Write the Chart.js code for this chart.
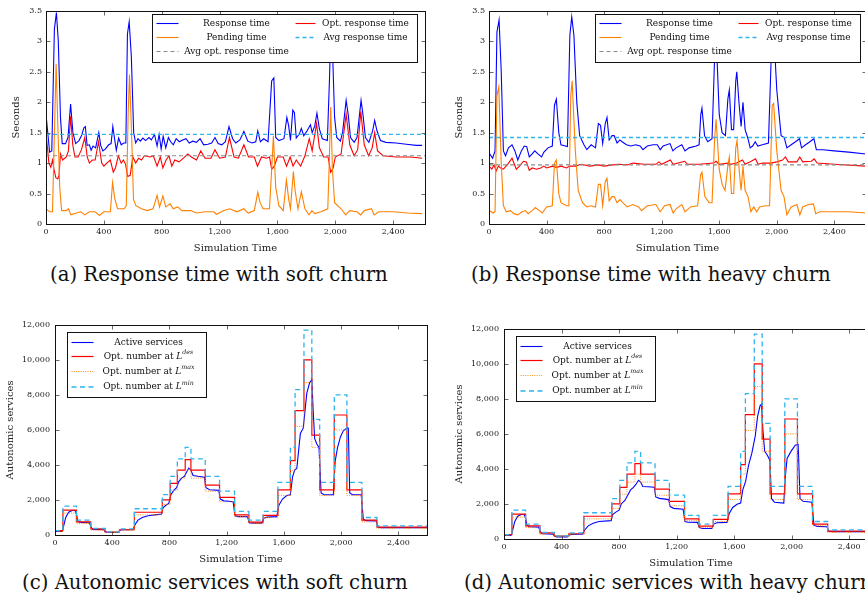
<!DOCTYPE html>
<html>
<head>
<meta charset="utf-8">
<script src="https://cdn.jsdelivr.net/npm/chart.js@4.4.1/dist/chart.umd.min.js"></script>
<style>
  html, body { margin: 0; padding: 0; background: #fff; }
  body { position: relative; width: 865px; height: 608px; overflow: hidden; }
  canvas { position: absolute; }
  .cap { position: absolute; font-family: "DejaVu Serif"; font-size: 19.7px; color: #111; white-space: nowrap; line-height: 1; }
</style>
</head>
<body>
<canvas id="chartA" width="437" height="252" style="left:0px;top:2px"></canvas>
<canvas id="chartB" width="435" height="252" style="left:443px;top:2px"></canvas>
<canvas id="chartC" width="439" height="250" style="left:0px;top:315px"></canvas>
<canvas id="chartD" width="441" height="250" style="left:449px;top:319px"></canvas>
<div class="cap" style="left:50px;top:265px">(a) Response time with soft churn</div>
<div class="cap" style="left:471px;top:265px">(b) Response time with heavy churn</div>
<div class="cap" style="left:22px;top:573px">(c) Autonomic services with soft churn</div>
<div class="cap" style="left:464px;top:573px">(d) Autonomic services with heavy churn</div>
<script>
// ---- données ----
const xTicks = [0, 400, 800, 1200, 1600, 2000, 2400];
const yTicksTime = [0, 0.5, 1, 1.5, 2, 2.5, 3, 3.5];
const yTicksServices = [0, 2000, 4000, 6000, 8000, 10000, 12000];

const timeLabels = ['Response time', 'Opt. response time', 'Pending time', 'Avg response time', 'Avg opt. response time'];
const serviceLabels = ['Active services', 'Opt. number at L^{des}', 'Opt. number at L^{max}', 'Opt. number at L^{min}'];

// (a) soft churn
const aResponse = [[0,1.80],[25,1.18],[40,1.20],[58,3.20],[72,3.47],[85,3.0],[100,1.75],[112,1.32],[135,1.32],[152,1.42],[170,1.97],[186,1.50],[205,1.32],[228,1.37],[245,1.45],[262,1.58],[272,1.60],[284,1.29],[300,1.30],[312,1.21],[325,1.28],[343,1.25],[365,1.50],[378,1.29],[393,1.20],[410,1.23],[433,1.30],[450,1.32],[462,1.60],[474,1.40],[486,1.21],[502,1.41],[520,1.30],[537,1.33],[552,1.33],[563,3.12],[575,3.32],[590,2.75],[606,1.50],[620,1.33],[636,1.40],[652,1.36],[670,1.41],[688,1.37],[712,1.42],[728,1.38],[750,1.47],[768,1.28],[782,1.47],[796,1.23],[810,1.44],[828,1.25],[846,1.42],[862,1.35],[880,1.30],[900,1.40],[922,1.35],[945,1.38],[968,1.40],[990,1.33],[1015,1.36],[1040,1.34],[1065,1.40],[1090,1.30],[1120,1.31],[1145,1.33],[1168,1.42],[1190,1.32],[1215,1.30],[1240,1.35],[1265,1.60],[1290,1.40],[1312,1.33],[1340,1.38],[1368,1.52],[1395,1.36],[1425,1.33],[1450,1.35],[1464,1.53],[1482,1.35],[1505,1.40],[1535,1.35],[1560,2.35],[1575,2.40],[1588,1.42],[1610,1.37],[1645,1.40],[1665,1.75],[1677,1.62],[1690,1.37],[1706,1.87],[1717,1.83],[1730,1.41],[1752,1.48],[1765,1.57],[1782,1.45],[1805,1.53],[1828,1.63],[1840,1.50],[1858,1.61],[1873,1.82],[1890,1.56],[1910,1.40],[1945,1.37],[1960,2.40],[1970,3.30],[1980,2.90],[1995,1.75],[2010,1.42],[2035,1.36],[2050,1.50],[2075,2.03],[2090,1.78],[2105,1.42],[2130,1.34],[2150,1.42],[2178,2.03],[2192,1.78],[2208,1.42],[2232,1.34],[2258,1.53],[2272,1.70],[2288,1.53],[2312,1.37],[2350,1.34],[2420,1.33],[2490,1.31],[2560,1.29],[2600,1.29]];
const aOptimal = [[0,1.50],[20,1.00],[33,0.93],[45,1.05],[55,0.90],[68,0.76],[82,0.74],[90,0.80],[100,1.15],[115,1.05],[140,1.10],[155,1.20],[170,1.77],[185,1.30],[200,1.10],[222,1.10],[245,1.22],[268,1.42],[285,1.10],[300,1.00],[320,1.05],[340,1.05],[363,1.35],[385,1.00],[400,0.95],[420,1.00],[445,1.05],[465,0.85],[480,0.92],[500,1.12],[520,1.00],[535,1.05],[550,0.98],[565,0.78],[582,0.80],[600,1.10],[620,1.00],[640,1.08],[660,1.05],[680,1.12],[720,1.10],[742,1.12],[768,0.95],[790,1.10],[808,0.92],[830,1.05],[850,1.12],[870,0.95],[890,1.05],[920,1.02],[950,1.08],[980,1.15],[1005,1.10],[1040,1.05],[1070,1.20],[1100,1.08],[1140,1.08],[1168,1.22],[1200,1.08],[1240,1.10],[1268,1.42],[1300,1.10],[1330,1.08],[1368,1.30],[1400,1.10],[1440,1.10],[1462,0.95],[1490,1.10],[1525,1.08],[1545,1.10],[1560,0.90],[1578,0.95],[1600,1.10],[1640,1.10],[1663,0.95],[1688,1.10],[1708,0.95],[1730,1.05],[1760,0.95],[1790,1.12],[1820,1.40],[1840,1.20],[1870,1.65],[1890,1.25],[1920,1.10],[1950,1.10],[1968,0.85],[1985,0.92],[2000,1.10],[2040,1.15],[2075,1.80],[2100,1.30],[2130,1.12],[2155,1.22],[2176,1.85],[2200,1.30],[2230,1.12],[2255,1.25],[2272,1.50],[2292,1.20],[2330,1.12],[2420,1.10],[2520,1.10],[2600,1.08]];
const aPending = [[0,0.25],[25,0.20],[45,0.20],[58,1.50],[70,2.63],[82,1.60],[95,0.60],[108,0.22],[140,0.22],[155,0.25],[172,0.15],[210,0.18],[240,0.20],[268,0.15],[300,0.20],[340,0.20],[370,0.14],[400,0.20],[445,0.20],[460,0.68],[475,0.42],[495,0.25],[540,0.25],[555,0.30],[568,1.80],[577,2.45],[590,1.60],[605,0.40],[622,0.30],[660,0.25],[700,0.22],[740,0.25],[768,0.47],[785,0.28],[808,0.46],[828,0.28],[858,0.33],[880,0.25],[910,0.28],[940,0.22],[1000,0.22],[1040,0.18],[1100,0.20],[1160,0.20],[1178,0.16],[1230,0.22],[1270,0.25],[1320,0.20],[1368,0.25],[1398,0.18],[1440,0.22],[1464,0.52],[1480,0.35],[1500,0.25],[1545,0.25],[1560,0.90],[1572,1.45],[1588,0.60],[1610,0.30],[1640,0.22],[1662,0.72],[1678,0.40],[1690,0.25],[1710,0.86],[1722,0.55],[1742,0.25],[1765,0.53],[1790,0.25],[1818,0.15],[1838,0.22],[1858,0.17],[1900,0.20],[1948,0.25],[1958,1.00],[1968,1.92],[1980,0.90],[1995,0.35],[2040,0.25],[2072,0.15],[2100,0.22],[2150,0.20],[2175,0.15],[2200,0.22],[2250,0.25],[2268,0.15],[2300,0.20],[2400,0.20],[2500,0.18],[2600,0.17]];
const aAvgResponse = 1.47;
const aAvgOptimal = 1.12;

// (b) heavy churn
const bResponse = [[0,1.17],[25,1.08],[42,1.20],[55,3.15],[70,3.35],[85,2.50],[100,1.20],[115,1.12],[135,1.25],[160,1.30],[180,1.20],[200,1.05],[225,1.20],[245,1.28],[262,1.27],[280,1.10],[300,1.15],[318,1.20],[340,1.15],[365,1.10],[382,1.18],[410,1.25],[440,1.28],[455,1.95],[468,2.05],[485,1.50],[500,1.30],[530,1.28],[545,1.27],[562,3.10],[575,3.40],[590,3.10],[610,2.00],[630,1.45],[660,1.30],[680,1.22],[710,1.30],[740,1.25],[760,1.65],[775,1.62],[790,1.32],[808,1.65],[820,1.75],[835,1.38],[855,1.45],[870,1.45],[890,1.33],[910,1.38],[925,1.35],[955,1.30],[985,1.28],[1020,1.30],[1050,1.28],[1070,1.22],[1100,1.28],[1140,1.30],[1170,1.30],[1190,1.22],[1210,1.28],[1258,1.32],[1278,1.20],[1300,1.25],[1340,1.30],[1362,1.20],[1390,1.25],[1440,1.28],[1460,1.30],[1472,1.80],[1480,1.90],[1498,1.45],[1520,1.35],[1550,1.40],[1568,2.75],[1580,3.00],[1600,1.80],[1620,1.50],[1643,1.45],[1660,2.05],[1670,2.20],[1685,1.55],[1700,1.55],[1715,2.35],[1722,2.50],[1737,2.00],[1752,1.60],[1765,2.00],[1780,1.55],[1800,1.40],[1815,1.25],[1832,1.28],[1850,1.35],[1868,1.28],[1900,1.30],[1942,1.33],[1962,2.80],[1980,3.10],[2000,2.20],[2030,1.45],[2052,1.42],[2070,1.25],[2100,1.30],[2130,1.35],[2158,1.40],[2172,1.25],[2200,1.30],[2230,1.35],[2258,1.40],[2275,1.22],[2320,1.22],[2400,1.20],[2500,1.18],[2620,1.15]];
const bOptimal = [[0,0.95],[20,0.90],[35,0.97],[50,0.87],[65,0.95],[80,0.92],[100,0.90],[130,0.98],[160,1.08],[190,0.90],[212,0.95],[240,1.03],[260,1.02],[280,0.88],[300,0.92],[330,0.90],[360,0.92],[380,0.95],[400,0.92],[440,0.95],[470,0.93],[500,0.95],[540,0.92],[560,0.95],[600,0.95],[640,0.98],[700,0.95],[760,0.97],[800,0.95],[860,0.97],[900,0.98],[960,0.97],[1000,1.00],[1080,0.98],[1160,0.98],[1180,1.02],[1200,0.98],[1260,1.05],[1280,0.98],[1360,1.03],[1380,0.98],[1460,0.98],[1560,1.00],[1578,1.03],[1600,0.98],[1660,1.00],[1680,0.98],[1720,1.00],[1762,1.05],[1780,0.98],[1822,1.03],[1852,1.07],[1870,0.98],[1900,1.00],[1960,1.00],[2000,1.02],[2040,1.05],[2060,1.10],[2080,1.02],[2140,1.02],[2160,1.10],[2180,1.02],[2240,1.03],[2260,1.07],[2280,1.00],[2400,0.98],[2620,0.95]];
const bPending = [[0,0.22],[30,0.18],[42,0.20],[55,2.10],[68,2.25],[85,1.00],[100,0.30],[120,0.20],[150,0.22],[172,0.17],[200,0.15],[230,0.20],[252,0.22],[272,0.17],[300,0.22],[322,0.27],[350,0.22],[370,0.18],[400,0.28],[440,0.30],[455,1.00],[468,1.05],[485,0.50],[500,0.35],[540,0.30],[555,0.30],[568,2.10],[578,2.35],[600,1.20],[620,0.55],[650,0.35],[680,0.28],[710,0.30],[740,0.28],[760,0.65],[775,0.65],[790,0.30],[808,0.70],[820,0.75],[835,0.38],[855,0.45],[870,0.45],[890,0.35],[910,0.40],[930,0.35],[960,0.28],[1000,0.32],[1040,0.28],[1060,0.22],[1100,0.30],[1160,0.32],[1190,0.20],[1220,0.30],[1258,0.32],[1280,0.18],[1300,0.25],[1340,0.32],[1362,0.20],[1400,0.28],[1450,0.30],[1470,0.80],[1480,0.85],[1500,0.45],[1530,0.35],[1550,0.35],[1568,1.40],[1578,1.72],[1600,0.90],[1620,0.65],[1640,0.55],[1660,0.95],[1670,1.10],[1685,0.50],[1700,0.50],[1715,1.25],[1724,1.37],[1740,0.85],[1752,0.55],[1765,0.95],[1780,0.55],[1800,0.45],[1820,0.20],[1840,0.28],[1860,0.20],[1880,0.28],[1920,0.30],[1950,0.30],[1968,1.95],[1978,1.98],[2000,1.20],[2030,0.55],[2050,0.45],[2070,0.15],[2100,0.28],[2140,0.32],[2160,0.15],[2180,0.28],[2220,0.32],[2255,0.33],[2270,0.17],[2300,0.20],[2400,0.20],[2500,0.20],[2620,0.18]];
const bAvgResponse = 1.42;
const bAvgOptimal = 0.97;

// (c)/(d) niveaux optimaux (marches, valeur à partir du début de chaque marche)
const optDes = [[0,250],[55,1420],[150,750],[250,350],[350,170],[450,300],[555,1300],[750,2000],[805,2950],[855,3700],[910,4300],[950,3700],[1050,2850],[1150,2150],[1255,1150],[1355,730],[1455,1120],[1558,2580],[1645,4250],[1678,7100],[1740,10000],[1795,5700],[1850,2580],[1952,6850],[2040,2580],[2145,850],[2250,450],[2600,450]];
const optMax = [[0,200],[55,1250],[150,650],[250,280],[350,150],[450,280],[555,1150],[750,1750],[805,2550],[855,3250],[910,3700],[950,3250],[1050,2500],[1150,1900],[1255,1050],[1355,650],[1455,1000],[1558,2250],[1645,3700],[1678,6200],[1740,8700],[1795,5000],[1850,2250],[1952,6000],[2040,2250],[2145,750],[2250,380],[2600,380]];
const optMin = [[0,250],[55,1650],[150,850],[250,380],[350,180],[450,350],[555,1500],[750,2300],[805,3350],[855,4350],[910,5000],[950,4350],[1050,3350],[1150,2500],[1255,1350],[1355,850],[1455,1350],[1558,3000],[1645,5000],[1678,8300],[1740,11700],[1795,6600],[1850,3000],[1952,8000],[2040,3000],[2145,1000],[2250,520],[2600,520]];
const cActive = [[0,200],[50,200],[60,500],[75,1000],[95,1300],[120,1400],[140,1400],[150,1200],[158,800],[175,720],[240,700],[255,400],[265,320],[340,300],[352,180],[365,140],[440,140],[452,250],[465,300],[545,300],[560,600],[580,850],[610,1000],[650,1100],[700,1150],[745,1200],[755,1550],[775,1700],[795,1800],[810,2300],[830,2550],[850,2700],[865,3050],[885,3250],[905,3350],[920,3600],[935,3820],[950,3700],[965,3400],[1000,3350],[1045,3300],[1055,2700],[1080,2580],[1145,2550],[1155,2050],[1180,1950],[1245,1900],[1258,1100],[1280,1050],[1345,1050],[1358,700],[1380,680],[1445,680],[1458,950],[1480,1020],[1550,1050],[1565,1700],[1590,2050],[1620,2250],[1645,2300],[1660,3300],[1675,3700],[1690,3800],[1705,5000],[1715,5800],[1735,6100],[1745,6900],[1760,8100],[1780,8700],[1795,8850],[1805,7000],[1815,5500],[1830,5200],[1845,5000],[1860,2400],[1880,2300],[1945,2300],[1958,4200],[1975,5000],[1995,5600],[2015,5950],[2040,6100],[2050,6100],[2060,2400],[2080,2300],[2140,2300],[2155,900],[2175,820],[2245,800],[2258,450],[2280,420],[2600,420]];
const dActive = [[0,200],[50,200],[60,500],[75,1000],[95,1300],[120,1400],[140,1400],[150,1200],[158,800],[175,700],[240,680],[255,380],[265,300],[340,280],[352,150],[365,120],[440,120],[452,220],[465,260],[545,280],[560,500],[585,750],[620,900],[660,1000],[745,1050],[755,1400],[780,1550],[800,1650],[815,2000],[840,2200],[860,2500],[880,2800],[900,2950],[915,3100],[935,3350],[950,3250],[965,3000],[1000,2980],[1045,2950],[1055,2400],[1080,2320],[1145,2250],[1155,1850],[1180,1750],[1245,1700],[1258,1000],[1280,960],[1345,950],[1358,650],[1380,600],[1445,600],[1458,850],[1480,930],[1550,950],[1565,1450],[1590,1800],[1620,1980],[1645,2050],[1660,2800],[1680,3300],[1700,4200],[1723,4900],[1747,5900],[1763,7000],[1780,7600],[1790,7700],[1800,6200],[1812,5000],[1830,4800],[1848,4500],[1860,2300],[1880,2100],[1945,2050],[1955,3500],[1968,4600],[1995,5000],[2025,5350],[2045,5400],[2058,2300],[2080,2150],[2140,2100],[2155,800],[2175,720],[2245,700],[2258,450],[2280,420],[2600,420]];

// ---- styles ----
const FONT = '"DejaVu Serif", serif';
const BLUE = '#0000ff', RED = '#ff0000', ORANGE = '#ff8000', SKY = '#2fb4ee', GRAY = '#8a8a8a';

const pts = arr => arr.map(([x, y]) => ({ x, y }));
const flat = (v, xMax) => [{ x: 0, y: v }, { x: xMax, y: v }];

function drawRich(ctx, text, cx, cy, size) {
  const m = text.match(/^(.*)L\^\{(\w+)\}$/);
  const parts = m
    ? [{ t: m[1], s: size, st: 'normal', dy: 0 }, { t: 'L', s: size, st: 'italic', dy: 0 }, { t: m[2], s: size * 0.7, st: 'italic', dy: -size * 0.45 }]
    : [{ t: text, s: size, st: 'normal', dy: 0 }];
  let total = 0;
  parts.forEach(p => { ctx.font = `${p.st} ${p.s}px ${FONT}`; p.w = ctx.measureText(p.t).width; total += p.w; });
  let x = cx - total / 2;
  ctx.fillStyle = '#111';
  ctx.textAlign = 'left';
  ctx.textBaseline = 'middle';
  parts.forEach(p => { ctx.font = `${p.st} ${p.s}px ${FONT}`; ctx.fillText(p.t, x, cy + p.dy); x += p.w; });
}

// cadre + graduations intérieures sur les quatre côtés
const framePlugin = {
  id: 'frame',
  afterDatasetsDraw(chart) {
    const { ctx, chartArea: a, scales: { x, y } } = chart;
    const L = Math.round(a.left) + 0.5, R = Math.round(a.right) + 0.5;
    const T = Math.round(a.top) + 0.5, B = Math.round(a.bottom) + 0.5;
    ctx.save();
    ctx.strokeStyle = '#444';
    ctx.lineWidth = 0.8;
    ctx.beginPath();
    x.ticks.forEach(t => {
      const px = Math.round(x.getPixelForValue(t.value)) + 0.5;
      ctx.moveTo(px, B); ctx.lineTo(px, B - 4);
      ctx.moveTo(px, T); ctx.lineTo(px, T + 4);
    });
    y.ticks.forEach(t => {
      const py = Math.round(y.getPixelForValue(t.value)) + 0.5;
      ctx.moveTo(L, py); ctx.lineTo(L + 4, py);
      ctx.moveTo(R, py); ctx.lineTo(R - 4, py);
    });
    ctx.stroke();
    ctx.strokeStyle = '#111';
    ctx.lineWidth = 1;
    ctx.strokeRect(L, T, R - L, B - T);
    ctx.restore();
  }
};

function legendPlugin(spec) {
  return {
    id: 'boxLegend',
    afterDraw(chart) {
      const { ctx, chartArea: a } = chart;
      const bx = Math.round(a.left + spec.dx) + 0.5, by = Math.round(a.top + spec.dy) + 0.5;
      ctx.save();
      ctx.fillStyle = '#fff';
      ctx.fillRect(bx, by, spec.w, spec.h);
      ctx.strokeStyle = '#111';
      ctx.lineWidth = 1;
      ctx.strokeRect(bx, by, spec.w, spec.h);
      spec.items.forEach((label, k) => {
        const ds = chart.data.datasets.find(d => d.label === label);
        const col = spec.cols[k % spec.cols.length];
        const yy = by + spec.rows[Math.floor(k / spec.cols.length)];
        ctx.strokeStyle = ds.borderColor;
        ctx.lineWidth = ds.borderWidth;
        ctx.setLineDash(ds.borderDash || []);
        ctx.beginPath();
        ctx.moveTo(bx + col.sx, yy);
        ctx.lineTo(bx + col.sx + col.sw, yy);
        ctx.stroke();
        ctx.setLineDash([]);
        drawRich(ctx, label, bx + col.tx, yy, spec.size);
      });
      ctx.restore();
    }
  };
}

function makeChart(id, cfg) {
  const tickFont = { family: FONT, size: 8 };
  const titleFont = { family: FONT, size: 10 };
  return new Chart(document.getElementById(id), {
    type: 'line',
    data: { datasets: cfg.datasets },
    options: {
      responsive: false,
      animation: false,
      events: [],
      layout: { padding: { top: 8, right: 12, left: 0, bottom: 0 } },
      elements: { point: { radius: 0 }, line: { tension: 0 } },
      plugins: { legend: { display: false }, tooltip: { enabled: false } },
      scales: {
        x: {
          type: 'linear', min: 0, max: cfg.xMax,
          grid: { display: false, drawTicks: false }, border: { display: false },
          afterBuildTicks: s => { s.ticks = xTicks.map(v => ({ value: v })); },
          afterFit: s => { s.height = 30; },
          ticks: { padding: 3, color: '#222', font: tickFont, maxRotation: 0, autoSkip: false,
                   callback: v => v.toLocaleString('en-US') },
          title: { display: true, text: 'Simulation Time', color: '#222', font: titleFont, padding: { top: 0, bottom: 0 } }
        },
        y: {
          type: 'linear', min: 0, max: cfg.yMax,
          grid: { display: false, drawTicks: false }, border: { display: false },
          afterBuildTicks: s => { s.ticks = cfg.yTicks.map(v => ({ value: v })); },
          afterFit: s => { s.width = cfg.yWidth; },
          ticks: { padding: cfg.yPad, color: '#222', font: tickFont, autoSkip: false,
                   callback: v => v.toLocaleString('en-US') },
          title: { display: true, text: cfg.yTitle, color: '#222', font: titleFont, padding: { top: cfg.yTitlePad, bottom: 0 } }
        }
      }
    },
    plugins: [framePlugin, legendPlugin(cfg.legend)]
  });
}

const timeLegend = {
  dx: 106, dy: 3, w: 265, h: 48, size: 9, rows: [9, 23, 37],
  cols: [{ sx: 4, sw: 22, tx: 84 }, { sx: 143, sw: 20, tx: 213 }],
  items: timeLabels
};
const serviceLegend = {
  dx: 12, dy: 7, w: 139, h: 65, size: 9, rows: [10, 24, 39, 54.5],
  cols: [{ sx: 4, sw: 22, tx: 81 }],
  items: serviceLabels
};

function timeSets(resp, opt, pend, avgResp, avgOpt, xMax) {
  return [
    { label: timeLabels[0], data: pts(resp), borderColor: BLUE, borderWidth: 1.1, order: 5 },
    { label: timeLabels[1], data: pts(opt), borderColor: RED, borderWidth: 1.1, order: 4 },
    { label: timeLabels[2], data: pts(pend), borderColor: ORANGE, borderWidth: 1.1, order: 3 },
    { label: timeLabels[3], data: flat(avgResp, xMax), borderColor: SKY, borderWidth: 1.3, borderDash: [4, 3], order: 2 },
    { label: timeLabels[4], data: flat(avgOpt, xMax), borderColor: GRAY, borderWidth: 1.1, borderDash: [4, 3], order: 1 }
  ];
}

function serviceSets(active) {
  return [
    { label: serviceLabels[0], data: pts(active), borderColor: BLUE, borderWidth: 1.1, order: 4 },
    { label: serviceLabels[1], data: pts(optDes), borderColor: RED, borderWidth: 1.2, stepped: true, order: 3 },
    { label: serviceLabels[2], data: pts(optMax), borderColor: ORANGE, borderWidth: 0.9, borderDash: [1, 1.3], stepped: true, order: 2 },
    { label: serviceLabels[3], data: pts(optMin), borderColor: SKY, borderWidth: 1.3, borderDash: [5, 3.5], stepped: true, order: 1 }
  ];
}

makeChart('chartA', { xMax: 2620, yMax: 3.5, yTicks: yTicksTime, yWidth: 46, yPad: 4, yTitle: 'Seconds', yTitlePad: 10,
  legend: timeLegend, datasets: timeSets(aResponse, aOptimal, aPending, aAvgResponse, aAvgOptimal, 2620) });
makeChart('chartB', { xMax: 2620, yMax: 3.5, yTicks: yTicksTime, yWidth: 46, yPad: 4, yTitle: 'Seconds', yTitlePad: 10,
  legend: timeLegend, datasets: timeSets(bResponse, bOptimal, bPending, bAvgResponse, bAvgOptimal, 2620) });
makeChart('chartC', { xMax: 2600, yMax: 12000, yTicks: yTicksServices, yWidth: 55, yPad: 5, yTitle: 'Autonomic services', yTitlePad: 4,
  legend: serviceLegend, datasets: serviceSets(cActive) });
makeChart('chartD', { xMax: 2600, yMax: 12000, yTicks: yTicksServices, yWidth: 55, yPad: 5, yTitle: 'Autonomic services', yTitlePad: 4,
  legend: serviceLegend, datasets: serviceSets(dActive) });
</script>
</body>
</html>
